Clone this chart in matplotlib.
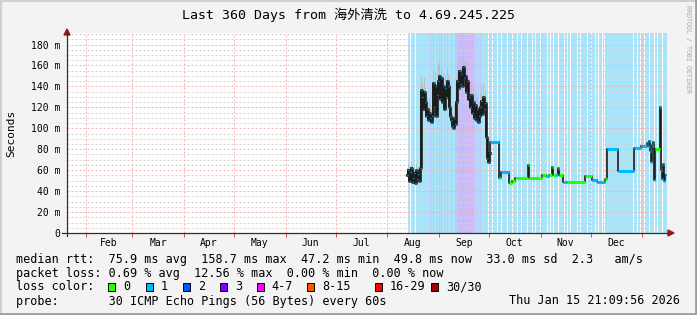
import numpy as np
import pandas as pd
import matplotlib
matplotlib.use("Agg")
import matplotlib.pyplot as plt
from matplotlib.lines import Line2D
from matplotlib.patches import Polygon, Rectangle

# ---------------- data ----------------
start = pd.Timestamp("2025-01-20 21:09:56")
span_days = 360
step_days = 0.6          # one consolidated RRA step (14.4 h)

# median rtt (ms), step index -> value, loss class of the step
dense_first_step = 340
dense_ms = [55, 60, 50, 58, 62, 49, 53, 57, 48, 60, 52, 56, 50, 62,
            137, 130, 118, 135, 125, 112, 118, 108, 115, 110, 106, 112,
            143, 120, 140, 112, 132, 145, 150, 128, 148, 125, 140, 118,
            138, 130, 145, 140, 120, 112, 108, 102, 100, 110, 104, 125,
            145, 138, 155, 142, 152, 140, 158.7, 148, 150, 135, 145, 128,
            130, 120, 132, 115, 125, 110, 122, 108, 118, 106, 112, 120,
            126, 114, 130, 118, 124, 92,
            72, 68, 76]
# upper edge of the smoke (ms) for the same steps
dense_smoke_hi = [62, 66, 58, 64, 68, 56, 60, 63, 55, 66, 58, 62, 57, 68,
                  150, 142, 130, 148, 138, 125, 130, 120, 128, 122, 118, 124,
                  158, 135, 154, 126, 146, 160, 163, 142, 160, 138, 152, 130,
                  150, 143, 157, 152, 133, 125, 120, 115, 112, 122, 117, 138,
                  160, 152, 170, 156, 166, 155, 172, 162, 164, 150, 158, 142,
                  143, 133, 145, 128, 138, 123, 135, 121, 130, 119, 125, 133,
                  139, 127, 142, 131, 136, 104,
                  80, 76, 84]
dense_loss = [0, 1, 1, 1, 1, 1, 1, 1, 1, 1, 1, 1, 1, 0,
              1, 1, 1, 1, 1, 1, 1, 1, 1, 1, 1, 1,
              1, 1, 1, 1, 1, 1, 1, 1, 1, 1, 1, 1,
              1, 1, 1, 1, 1, 1, 1, 1, 1, 1, 1, 1,
              1, 1, 1, 1, 1, 1, 1, 1, 3, 1, 1, 3,
              1, 1, 1, 1, 1, 1, 1, 1, 1, 1, 1, 1,
              1, 1, 1, 1, 1, 1,
              1, 1, 1]
sparse_step = [423, 432, 434, 442, 445, 448, 461, 462, 475, 479, 482, 485,
               486, 489, 491, 492, 496, 500, 518, 525, 530, 538, 540, 551,
               567, 574, 580, 581, 582, 583, 584, 585, 586, 587, 588, 593,
               594, 595, 596, 597, 598]
sparse_ms = [87, 53, 58, 48, 50, 53, 65, 53, 55, 54, 55, 63,
             55, 55, 62, 55, 49, 49, 54, 51, 49, 52, 80, 59,
             81, 83, 86, 83, 88, 78, 68, 84, 87, 51, 80, 120,
             60, 52, 66, 50, 55]
sparse_loss = [1, 0, 1, 0, 0, 0, 0, 0, 0, 1, 0, 0,
               0, 1, 0, 0, 1, 0, 0, 1, 1, 0, 1, 1,
               1, 1, 1, 1, 1, 1, 1, 1, 1, 1, 0, 1,
               1, 1, 1, 1, 1]
last_step = 599

# loss class shown as background, one char per step, starting at this step
loss_bg_first_step = 341
loss_bg = ("11 0 1111 0 11111111111111 "
           "2 11 2 111 2 111 2 11 2 11 2 111 2 111 22 "
           "33333333 4 3333 4 333 2121212 1111111 "
           "0 111 0 1111 0 111 0 11111 0 1111 0 1111 0 111 0 11111 0 1111 0 11 0 1111 0 "
           "111111 0 11 0 11 0 1111 0 11111 0 11 0 11 0 111111 0 11 0 111111 0 111 0 111 0 "
           "11 0 111 0 1 0 1111111111111111111111111111 0 111 0 11 0 111 0 1111 0 1111 0 "
           "11 0 1111 0 1111")

loss_colors = {0: "#26ff00", 1: "#00b8ff", 2: "#0059ff", 3: "#7e00ff",
               4: "#ff00ff", 5: "#ff5500", 6: "#ff0000", 7: "#a10000"}
bg_colors = {1: "#a8e5fb", 2: "#b4cdfb", 3: "#c8bcf8", 4: "#e6b4f6"}

legend_labels = ["0", "1", "2", "3", "4-7", "8-15", "16-29", "30/30"]
yticks = [0, 20, 40, 60, 80, 100, 120, 140, 160, 180]
title = "Last 360 Days from 海外清洗 to 4.69.245.225"
stats1 = "median rtt:  75.9 ms avg  158.7 ms max  47.2 ms min  49.8 ms now  33.0 ms sd  2.3   am/s"
stats2 = "packet loss: 0.69 % avg  12.56 % max  0.00 % min  0.00 % now"
probe = "probe:       30 ICMP Echo Pings (56 Bytes) every 60s"
stamp = "Thu Jan 15 21:09:56 2026"

# ---------------- figure ----------------
W, H = 697, 315
L, R, T, B = 67, 667, 33, 233
MONO = "DejaVu Sans Mono"


def fx(x):
    return x / W


def fy(y):
    return 1 - y / H


fig = plt.figure(figsize=(W / 100, H / 100), dpi=100, facecolor="#f3f3f3")
ax = fig.add_axes([fx(L), fy(B), (R - L) / W, (B - T) / H])
ax.set_facecolor("white")
ymax = 191
ax.set_xlim(0, span_days)
ax.set_ylim(0, ymax)
for s in ax.spines.values():
    s.set_visible(False)

# loss background
bg = loss_bg.replace(" ", "")
i = 0
while i < len(bg):
    j = i
    while j < len(bg) and bg[j] == bg[i]:
        j += 1
    c = int(bg[i])
    if c > 0:
        ax.axvspan((loss_bg_first_step + i) * step_days,
                   (loss_bg_first_step + j) * step_days,
                   color=bg_colors[c], lw=0, zorder=0.5, antialiased=False)
    i = j

# grid (dotted)
for v in range(5, ymax, 5):
    major = v % 20 == 0
    ax.axhline(v, color="#f3b2b2" if major else "#d2d2d2", lw=0.72,
               ls=(0, (2, 2)), zorder=1)
months = pd.date_range("2025-02-01", "2026-01-01", freq="MS")
mpos = [(m - start) / pd.Timedelta(days=1) for m in months]
for p in mpos:
    ax.axvline(p, color="#f3b2b2", lw=0.72, ls=(0, (2, 2)), zorder=1)

# month labels at mid-month
mids = [(a + b) / 2 for a, b in zip(mpos[:-1], mpos[1:])]
mlabels = [m.strftime("%b") for m in months[:-1]]
ax.set_xticks(mpos)
ax.set_xticklabels([])
ax.tick_params(axis="x", which="major", length=3, width=0.72,
               color="#e05050", direction="out")
ax.set_xticks(mids, minor=True)
ax.set_xticklabels(mlabels, minor=True, fontsize=7, family=MONO)
ax.tick_params(axis="x", which="minor", length=0, pad=3.5)
ax.set_yticks(yticks)
ax.set_yticklabels([("%d m" % v) if v else "0" for v in yticks],
                   fontsize=7, family=MONO)
ax.tick_params(axis="y", length=0, pad=5)

# median series
n_dense = len(dense_ms)
steps = np.array(list(range(dense_first_step, dense_first_step + n_dense))
                 + sparse_step, dtype=float)
vals = np.array(dense_ms + sparse_ms, dtype=float)
loss = dense_loss + sparse_loss
d0 = steps * step_days
d1 = np.append(steps[1:], last_step) * step_days

# smoke above the median in the busy period
sd0 = d0[:n_dense]
ax.fill_between(np.append(sd0, d1[n_dense - 1]),
                np.append(dense_ms, dense_ms[-1]),
                np.append(dense_smoke_hi, dense_smoke_hi[-1]),
                step="post", color="#bdbdbd", lw=0, zorder=2)

# busy period drawn heavier (dense dark smoke around the median)
ax.step(np.append(sd0, d1[n_dense - 1]), np.append(dense_ms, dense_ms[-1]),
        where="post", color="#1c1c1c", lw=1.9, zorder=3)
ax.step(np.append(d0, d1[-1]), np.append(vals, vals[-1]), where="post",
        color="#1c1c1c", lw=1.2, zorder=3)
lws = [1.0] * n_dense + [2.2] * len(sparse_ms)
ax.hlines(vals, d0, d1, colors=[loss_colors[c] for c in loss], lw=lws,
          zorder=4)

# axis lines and arrows
fig.add_artist(Line2D([fx(L), fx(L)], [fy(B + 3), fy(T - 1)], color="#303030",
                      lw=0.9, transform=fig.transFigure))
fig.add_artist(Line2D([fx(L - 5), fx(R + 2)], [fy(B), fy(B)], color="#303030",
                      lw=0.9, transform=fig.transFigure))
fig.add_artist(Polygon([[fx(L - 3), fy(T + 2)], [fx(L + 3), fy(T + 2)],
                        [fx(L), fy(T - 4)]], closed=True, color="#9a1a1a",
                       transform=fig.transFigure))
fig.add_artist(Polygon([[fx(R + 1), fy(B - 3)], [fx(R + 1), fy(B + 3)],
                        [fx(R + 7), fy(B)]], closed=True, color="#9a1a1a",
                       transform=fig.transFigure))

# frame
fig.add_artist(Line2D([0, 1], [fy(0.5), fy(0.5)], color="#cfcfcf", lw=1.5,
                      transform=fig.transFigure))
fig.add_artist(Line2D([fx(0.5), fx(0.5)], [0, 1], color="#cfcfcf", lw=1.5,
                      transform=fig.transFigure))
fig.add_artist(Line2D([0, 1], [fy(H - 1), fy(H - 1)], color="#9e9e9e", lw=2,
                      transform=fig.transFigure))
fig.add_artist(Line2D([fx(W - 1), fx(W - 1)], [0, 1], color="#9e9e9e", lw=2,
                      transform=fig.transFigure))

# texts
fig.text(fx(348.5), fy(15), title, ha="center", va="center", fontsize=9.5,
         family=[MONO, "Noto Sans CJK SC"])
fig.text(fx(11), fy(133), "Seconds", rotation=90, ha="center", va="center",
         fontsize=8, family=MONO)
fig.text(fx(688), fy(5), "RRDTOOL / TOBI OETIKER", rotation=270, ha="center",
         va="top", fontsize=4.8, family=MONO, color="#a8a8a8")
fig.text(fx(16), fy(259), stats1, ha="left", va="center", fontsize=8.5, family=MONO)
fig.text(fx(16), fy(273), stats2, ha="left", va="center", fontsize=8.5, family=MONO)
fig.text(fx(16), fy(287), "loss color:", ha="left", va="center", fontsize=8.5,
         family=MONO)
box_x = [108, 145.7, 182.7, 220, 256.7, 307.3, 375, 430.7]
for k, (bx, lab) in enumerate(zip(box_x, legend_labels)):
    fig.add_artist(Rectangle((fx(bx), fy(291)), 7 / W, 8 / H,
                             facecolor=loss_colors[k], edgecolor="black",
                             lw=0.7, transform=fig.transFigure))
    fig.text(fx(bx + 15), fy(287), lab, ha="left", va="center", fontsize=8.5,
             family=MONO)
fig.text(fx(16), fy(301), probe, ha="left", va="center", fontsize=8.5, family=MONO)
fig.text(fx(680), fy(301), stamp, ha="right", va="center", fontsize=8.5,
         family=MONO)

fig.savefig("out.png", dpi=100, facecolor=fig.get_facecolor())
